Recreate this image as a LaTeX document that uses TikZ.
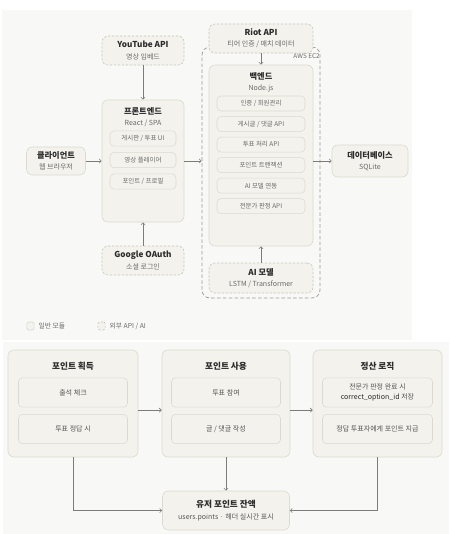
\documentclass[tikz,border=0pt]{standalone}
\usepackage{fontspec}
\setmainfont{Noto Sans CJK KR}
\usetikzlibrary{arrows.meta,positioning}
\definecolor{panelbg}{HTML}{F8F8F6}
\definecolor{boxfill}{HTML}{F3F2EC}
\definecolor{boxline}{HTML}{DBD9D1}
\definecolor{extline}{HTML}{C9C7BE}
\definecolor{groupline}{HTML}{9B9992}
\definecolor{inkdark}{HTML}{2B2B2B}
\definecolor{inkgrey}{HTML}{6A6A6A}
\definecolor{arrowgrey}{HTML}{7C7C7C}
\newcommand{\subtxt}[1]{{\fontsize{6}{7}\selectfont\mdseries\color{inkgrey}#1}}

\begin{document}
\begin{tikzpicture}[x=0.03cm, y=-0.03cm,
    module/.style={
      rectangle, rounded corners=1.8mm, draw=boxline, fill=boxfill,
      line width=0.5pt, inner sep=0pt, align=center, text=inkdark,
      font=\fontsize{7}{9.5}\selectfont\bfseries
    },
    external/.style={module, draw=extline, dash pattern=on 2pt off 1.4pt},
    awsgroup/.style={
      rectangle, rounded corners=2.4mm, draw=groupline,
      dash pattern=on 3pt off 2pt, line width=0.6pt
    },
    head/.style={align=center, inner sep=0pt, text=inkdark,
      font=\fontsize{7}{9.5}\selectfont\bfseries},
    item/.style={
      rectangle, rounded corners=1.2mm, draw=boxline, fill=boxfill,
      line width=0.45pt, inner sep=0pt, align=center, text=inkgrey,
      font=\fontsize{5.5}{6.5}\selectfont
    },
    bighead/.style={head, font=\fontsize{7.4}{9}\selectfont\bfseries},
    bigitem/.style={item, minimum width=3.27cm, minimum height=0.88cm,
      text=inkdark!80, font=\fontsize{6}{8}\selectfont},
    legend/.style={inner sep=0pt, text=inkgrey, font=\fontsize{5.8}{7}\selectfont},
    arrow/.style={-{Straight Barb[length=1.8pt, width=3.6pt]},
      line width=0.5pt, draw=arrowgrey}
  ]
    \useasboundingbox (0,0) rectangle (449,534);
    % panels
    \fill[panelbg] (2,10) rectangle (412,340);
    \fill[panelbg] (3,342) rectangle (449,534);

    % --- system architecture ---
    \node[awsgroup, minimum width=3.54cm, minimum height=7.53cm] (aws) at (261,172.5) {};
    \node[anchor=east, inner sep=0pt, text=inkgrey, font=\fontsize{5.5}{6}\selectfont] (aws-t) at (320,56) {AWS EC2};

    \node[external, minimum width=2.46cm, minimum height=0.87cm] (youtube) at (143,50.5) {YouTube API\\\subtxt{영상 임베드}};
    \node[external, minimum width=3.12cm, minimum height=0.87cm] (riot) at (261,38.5) {Riot API\\\subtxt{티어 인증 / 매치 데이터}};
    \node[module, minimum width=1.77cm, minimum height=0.84cm] (client) at (56,161) {클라이언트\\\subtxt{웹 브라우저}};

    \node[module, minimum width=2.46cm, minimum height=3.66cm] (front) at (143,161) {};
    \node[head] (front-t) at (143,117.5) {프론트엔드\\\subtxt{React / SPA}};
    \node[item, minimum width=1.98cm, minimum height=0.46cm] (front-1) at (143,138.5) {게시판 / 투표 UI};
    \node[item, minimum width=1.98cm, minimum height=0.46cm, below=0.17cm of front-1] (front-2) {영상 플레이어};
    \node[item, minimum width=1.98cm, minimum height=0.46cm, below=0.17cm of front-2] (front-3) {포인트 / 프로필};

    \node[external, minimum width=2.46cm, minimum height=0.87cm] (google) at (143,260.5) {Google OAuth\\\subtxt{소셜 로그인}};

    \node[module, minimum width=3.12cm, minimum height=5.43cm] (backend) at (261,155.5) {};
    \node[head] (backend-t) at (261,82.5) {백엔드\\\subtxt{Node.js}};
    \node[item, minimum width=2.64cm, minimum height=0.45cm] (be-1) at (261,103.5) {인증 / 회원관리};
    \node[item, minimum width=2.64cm, minimum height=0.45cm, below=0.15cm of be-1] (be-2) {게시글 / 댓글 API};
    \node[item, minimum width=2.64cm, minimum height=0.45cm, below=0.15cm of be-2] (be-3) {투표 처리 API};
    \node[item, minimum width=2.64cm, minimum height=0.45cm, below=0.15cm of be-3] (be-4) {포인트 트랜잭션};
    \node[item, minimum width=2.64cm, minimum height=0.45cm, below=0.15cm of be-4] (be-5) {AI 모델 연동};
    \node[item, minimum width=2.64cm, minimum height=0.45cm, below=0.15cm of be-5] (be-6) {전문가 판정 API};

    \node[external, minimum width=3.12cm, minimum height=0.9cm] (ai) at (261,278) {AI 모델\\\subtxt{LSTM / Transformer}};
    \node[module, minimum width=2.28cm, minimum height=0.96cm] (db) at (370,161) {데이터베이스\\\subtxt{SQLite}};

    \draw[arrow] (client) -- (front);
    \draw[arrow] (front.east) -- (front.east -| aws.west);
    \draw[arrow] (db.west -| backend.east) -- (db.west);
    \draw[arrow] (youtube) -- (front);
    \draw[arrow] (google) -- (front);
    \draw[arrow] (riot) -- (backend);
    \draw[arrow] (ai) -- (backend);

    % legend
    \node[module, rounded corners=0.6mm, minimum width=0.22cm, minimum height=0.24cm] (leg-mod) at (30.5,326) {};
    \node[legend, right=0.12cm of leg-mod] (leg-mod-t) {일반 모듈};
    \node[external, rounded corners=0.6mm, minimum width=0.22cm, minimum height=0.24cm] (leg-ext) at (101.5,326) {};
    \node[legend, right=0.12cm of leg-ext] (leg-ext-t) {외부 API / AI};

    % --- point flow ---
    \node[module, minimum width=3.9cm, minimum height=3.21cm] (earn) at (73,403.5) {};
    \node[bighead] (earn-t) at (73,366) {포인트 획득};
    \node[bigitem] (earn-1) at (73,392.5) {출석 체크};
    \node[bigitem, below=0.2cm of earn-1] (earn-2) {투표 정답 시};

    \node[module, minimum width=3.84cm, minimum height=3.21cm] (use) at (226,403.5) {};
    \node[bighead] (use-t) at (226,366) {포인트 사용};
    \node[bigitem] (use-1) at (226,392.5) {투표 참여};
    \node[bigitem, below=0.2cm of use-1] (use-2) {글 / 댓글 작성};

    \node[module, minimum width=3.87cm, minimum height=3.21cm] (settle) at (377.5,403.5) {};
    \node[bighead] (settle-t) at (377.5,366) {정산 로직};
    \node[bigitem, minimum width=3.3cm] (settle-1) at (377.5,392.5) {전문가 판정 완료 시\\{\color{inkdark}correct\_option\_id} 저장};
    \node[bigitem, minimum width=3.3cm, below=0.2cm of settle-1] (settle-2) {정답 투표자에게 포인트 지급};

    \node[module, minimum width=3.81cm, minimum height=1.17cm, font=\fontsize{7.4}{10}\selectfont\bfseries] (balance) at (226,510.5) {유저 포인트 잔액\\{\fontsize{6}{7}\selectfont\mdseries\color{inkdark!80}users.points · 헤더 실시간 표시}};

    \draw[arrow] ([yshift=-0.2cm]earn.east) -- ([yshift=-0.2cm]use.west);
    \draw[arrow] ([yshift=-0.2cm]use.east) -- ([yshift=-0.2cm]settle.west);
    \draw[arrow] (earn.south) |- (balance.west);
    \draw[arrow] (use) -- (balance);
    \draw[arrow] (settle.south) |- (balance.east);
  \end{tikzpicture}
\end{document}
